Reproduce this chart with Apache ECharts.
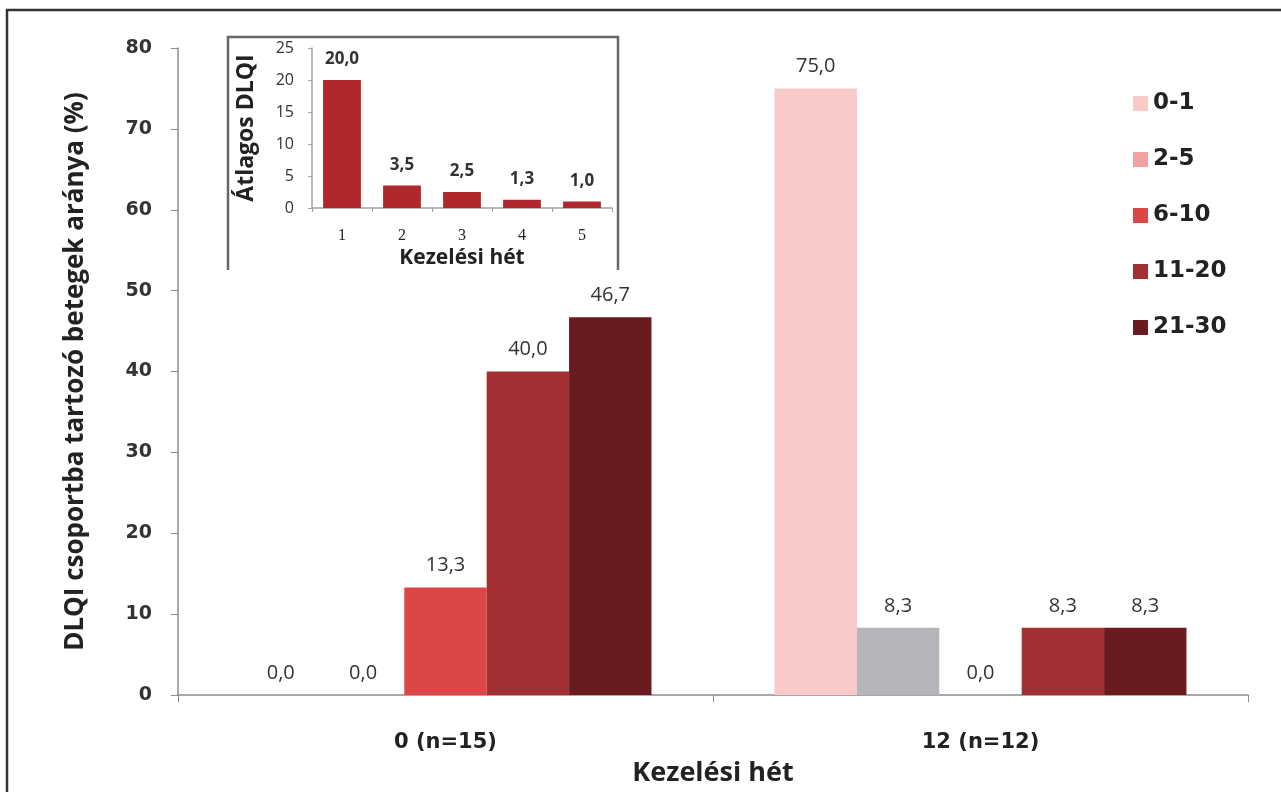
<!DOCTYPE html>
<html>
<head>
<meta charset="utf-8">
<script src="https://cdn.jsdelivr.net/npm/echarts@6/dist/echarts.min.js"></script>
<style>
  html, body { margin: 0; padding: 0; background: #fff; }
  #chart { width: 1281px; height: 792px; }
</style>
</head>
<body>
<div id="chart"></div>
<script>
// Main chart: share of patients per DLQI band at treatment week 0 and 12
const weeks = ['0 (n=15)', '12 (n=12)'];
const bands = ['0-1', '2-5', '6-10', '11-20', '21-30'];
const band01 = [0.0, 75.0];
const band25 = [0.0, 8.3];
const band610 = [13.3, 0.0];
const band1120 = [40.0, 8.3];
const band2130 = [46.7, 8.3];
const yTicks = [0, 10, 20, 30, 40, 50, 60, 70, 80];

// Inset: mean DLQI by treatment week
const insetWeeks = ['1', '2', '3', '4', '5'];
const insetMean = [20.0, 3.5, 2.5, 1.3, 1.0];

const bandColors = ['#f9cac8', '#f2a2a2', '#dd4646', '#a22f31', '#6a1b20'];
const grayBar = '#b5b5ba';

const fmt = v => v.toFixed(1).replace('.', ',');

const bandValues = [band01, band25, band610, band1120, band2130];

const mainSeries = bands.map((name, i) => ({
  name: name,
  type: 'bar',
  xAxisIndex: 0,
  yAxisIndex: 0,
  barGap: '0%',
  barCategoryGap: '23%',
  itemStyle: { color: bandColors[i] },
  data: bandValues[i].map((v, j) => {
    // the 2-5 bar at week 12 is shown in gray
    if (i === 1 && j === 1) return { value: v, itemStyle: { color: grayBar } };
    return v;
  }),
  label: {
    show: true,
    position: 'top',
    distance: 12,
    formatter: p => fmt(p.value),
    fontFamily: 'Open Sans',
    fontSize: 20,
    color: '#333'
  }
}));

const chart = echarts.init(document.getElementById('chart'), null, { renderer: 'canvas' });

chart.setOption({
  animation: false,
  backgroundColor: '#ffffff',
  grid: [
    { left: 178, top: 48, right: 33, bottom: 95 },
    { left: 312, top: 48, width: 300, height: 160 }
  ],
  legend: {
    orient: 'vertical',
    left: 1128,
    top: 87,
    itemWidth: 15,
    itemHeight: 15,
    itemGap: 33,
    icon: 'rect',
    data: bands,
    textStyle: { fontFamily: 'DejaVu Sans', fontWeight: 'bold', fontSize: 23, color: '#222' }
  },
  xAxis: [
    {
      type: 'category',
      gridIndex: 0,
      data: weeks,
      axisLine: { lineStyle: { color: '#8c8c8c', width: 1.5 } },
      axisTick: { show: true, length: 7, lineStyle: { color: '#8c8c8c' } },
      axisLabel: { margin: 37, fontFamily: 'DejaVu Sans', fontWeight: 'bold', fontSize: 21, color: '#222' },
      name: 'Kezelési hét',
      nameLocation: 'middle',
      nameGap: 65,
      nameTextStyle: { fontFamily: 'Open Sans', fontWeight: 'bold', fontSize: 27, color: '#222' }
    },
    {
      type: 'category',
      gridIndex: 1,
      data: insetWeeks,
      axisLine: { lineStyle: { color: '#9aa3ad', width: 1.5 } },
      axisTick: { show: true, length: 4, lineStyle: { color: '#9aa3ad' } },
      axisLabel: { margin: 20, fontFamily: 'Liberation Serif', fontSize: 16, color: '#222' },
      name: 'Kezelési hét',
      nameLocation: 'middle',
      nameGap: 40,
      nameTextStyle: { fontFamily: 'Open Sans', fontWeight: 'bold', fontSize: 21, color: '#222' }
    }
  ],
  yAxis: [
    {
      type: 'value',
      gridIndex: 0,
      min: 0,
      max: 80,
      interval: 10,
      splitLine: { show: false },
      axisLine: { show: true, lineStyle: { color: '#8c8c8c', width: 1.5 } },
      axisTick: { show: true, length: 7, lineStyle: { color: '#8c8c8c' } },
      axisLabel: {
        margin: 26,
        fontFamily: 'DejaVu Sans', fontWeight: 'bold', fontSize: 19, color: '#333',
        formatter: v => (yTicks.includes(v) ? String(v) : '')
      },
      name: 'DLQI csoportba tartozó betegek aránya (%)',
      nameLocation: 'middle',
      nameGap: 89,
      nameRotate: 90,
      nameTextStyle: { fontFamily: 'Open Sans', fontWeight: 'bold', fontSize: 26, color: '#222' }
    },
    {
      type: 'value',
      gridIndex: 1,
      min: 0,
      max: 25,
      interval: 5,
      splitLine: { show: false },
      axisLine: { show: true, lineStyle: { color: '#9aa3ad', width: 1.5 } },
      axisTick: { show: true, length: 4, lineStyle: { color: '#9aa3ad' } },
      axisLabel: { margin: 18, fontFamily: 'Open Sans', fontSize: 16, color: '#333' },
      name: 'Átlagos DLQI',
      nameLocation: 'middle',
      nameGap: 54,
      nameRotate: 90,
      nameTextStyle: { fontFamily: 'Open Sans', fontWeight: 'bold', fontSize: 23, color: '#222' }
    }
  ],
  series: mainSeries.concat([{
    name: 'Átlagos DLQI',
    type: 'bar',
    xAxisIndex: 1,
    yAxisIndex: 1,
    barCategoryGap: '37%',
    itemStyle: { color: '#b1282c' },
    data: insetMean,
    label: {
      show: true,
      position: 'top',
      distance: 12,
      formatter: p => fmt(p.value),
      fontFamily: 'Open Sans',
      fontWeight: 'bold',
      fontSize: 17,
      color: '#333'
    }
  }]),
  graphic: [
    {
      type: 'rect',
      shape: { x: 7, y: 10, width: 1400, height: 900 },
      style: { fill: null, stroke: '#333', lineWidth: 2.5 },
      silent: true
    },
    {
      type: 'polyline',
      shape: { points: [[228, 270], [228, 37], [618, 37], [618, 270]] },
      style: { fill: null, stroke: '#666', lineWidth: 2.5 },
      silent: true
    }
  ]
});
</script>
</body>
</html>
